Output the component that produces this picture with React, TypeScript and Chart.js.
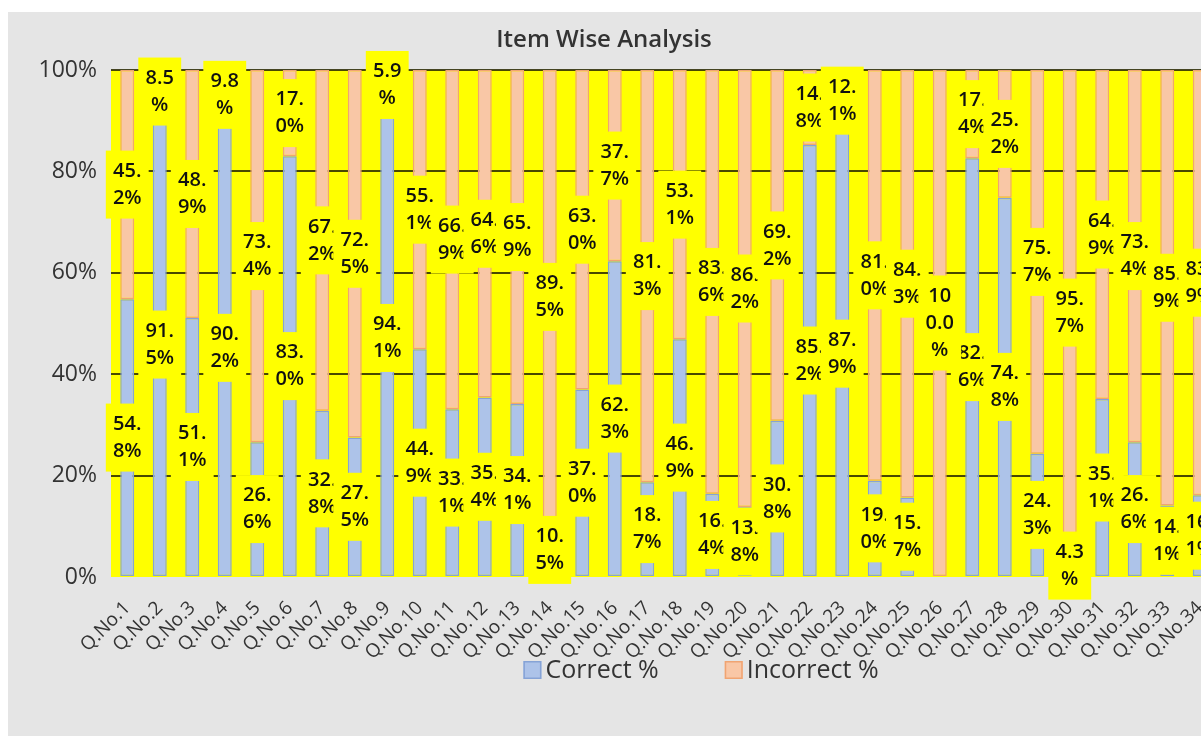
import React, { useEffect, useRef } from 'react';
import { Chart, registerables } from 'chart.js';

Chart.register(...registerables);

const categories = [
  'Q.No.1', 'Q.No.2', 'Q.No.3', 'Q.No.4', 'Q.No.5', 'Q.No.6', 'Q.No.7', 'Q.No.8', 'Q.No.9', 'Q.No.10',
  'Q.No.11', 'Q.No.12', 'Q.No.13', 'Q.No.14', 'Q.No.15', 'Q.No.16', 'Q.No.17', 'Q.No.18', 'Q.No.19', 'Q.No.20',
  'Q.No.21', 'Q.No.22', 'Q.No.23', 'Q.No.24', 'Q.No.25', 'Q.No.26', 'Q.No.27', 'Q.No.28', 'Q.No.29', 'Q.No.30',
  'Q.No.31', 'Q.No.32', 'Q.No.33', 'Q.No.34',
];

const correctPct = [
  54.8, 91.5, 51.1, 90.2, 26.6, 83.0, 32.8, 27.5, 94.1, 44.9,
  33.1, 35.4, 34.1, 10.5, 37.0, 62.3, 18.7, 46.9, 16.4, 13.8,
  30.8, 85.2, 87.9, 19.0, 15.7, 0.0, 82.6, 74.8, 24.3, 4.3,
  35.1, 26.6, 14.1, 16.1,
];

const incorrectPct = [
  45.2, 8.5, 48.9, 9.8, 73.4, 17.0, 67.2, 72.5, 5.9, 55.1,
  66.9, 64.6, 65.9, 89.5, 63.0, 37.7, 81.3, 53.1, 83.6, 86.2,
  69.2, 14.8, 12.1, 81.0, 84.3, 100.0, 17.4, 25.2, 75.7, 95.7,
  64.9, 73.4, 85.9, 83.9,
];

const yTicks = [0, 20, 40, 60, 80, 100];

const seriesNames = ['Correct %', 'Incorrect %'];
const titleText = 'Item Wise Analysis';

const CANVAS_W = 1230;
const CANVAS_H = 724;
const FONT = '"Open Sans", "Noto Sans", sans-serif';

function wrapText(ctx: CanvasRenderingContext2D, text: string, maxW: number): string[] {
  const lines: string[] = [];
  let cur = '';
  for (const ch of text) {
    const t = cur + ch;
    if (cur && ctx.measureText(t).width > maxW) {
      lines.push(cur);
      cur = ch;
    } else {
      cur = t;
    }
  }
  if (cur) lines.push(cur);
  return lines;
}

export default function App() {
  const ref = useRef<HTMLCanvasElement>(null);

  useEffect(() => {
    const canvas = ref.current;
    if (!canvas) return;

    const bgPlugin = {
      id: 'bgPlugin',
      beforeDraw(chart: any) {
        const { ctx, chartArea: a } = chart;
        ctx.save();
        ctx.fillStyle = '#e5e5e5';
        ctx.fillRect(0, 0, chart.width, chart.height);
        ctx.fillStyle = '#ffff00';
        ctx.fillRect(a.left, a.top, a.right - a.left, a.bottom - a.top);
        ctx.restore();
      },
    };

    const labelPlugin = {
      id: 'labelPlugin',
      afterDatasetsDraw(chart: any) {
        const ctx: CanvasRenderingContext2D = chart.ctx;
        ctx.save();
        ctx.font = `600 20px ${FONT}`;
        const wrapW = ctx.measureText('00.').width + 1.5;
        const boxW = wrapW + 13;
        const lh = 27;
        chart.data.datasets.forEach((ds: any, di: number) => {
          const meta = chart.getDatasetMeta(di);
          meta.data.forEach((bar: any, i: number) => {
            const v = ds.data[i];
            if (!v) return;
            const { x, y, base } = bar.getProps(['x', 'y', 'base'], true);
            const cy = (y + base) / 2;
            const lines = wrapText(ctx, v.toFixed(1) + '%', wrapW);
            const bh = lines.length * lh + 14;
            ctx.fillStyle = '#ffff00';
            ctx.fillRect(x - boxW / 2, cy - bh / 2, boxW, bh);
            ctx.fillStyle = '#111111';
            ctx.textAlign = 'center';
            ctx.textBaseline = 'middle';
            lines.forEach((ln, k) => {
              ctx.fillText(ln, x, cy - ((lines.length - 1) * lh) / 2 + k * lh);
            });
          });
        });
        ctx.restore();
      },
      afterDraw(chart: any) {
        const ctx: CanvasRenderingContext2D = chart.ctx;
        ctx.save();
        // title
        ctx.font = `600 24px ${FONT}`;
        ctx.fillStyle = '#333333';
        ctx.textAlign = 'center';
        ctx.textBaseline = 'middle';
        ctx.fillText(titleText, 596, 28);
        // legend
        ctx.font = `25px ${FONT}`;
        const box = 18;
        const gap = 4;
        const itemGap = 66;
        const widths = chart.data.datasets.map((ds: any) => ctx.measureText(ds.label).width);
        const total = widths.reduce((s: number, w: number) => s + box + gap + w, 0) + itemGap * (widths.length - 1);
        let x = 693 - total / 2;
        const cy = 658;
        chart.data.datasets.forEach((ds: any, i: number) => {
          ctx.fillStyle = ds.backgroundColor;
          ctx.fillRect(x, cy - box / 2, box, box);
          ctx.strokeStyle = ds.borderColor;
          ctx.lineWidth = 1.5;
          ctx.strokeRect(x + 0.75, cy - box / 2 + 0.75, box - 1.5, box - 1.5);
          ctx.fillStyle = '#333333';
          ctx.textAlign = 'left';
          ctx.textBaseline = 'middle';
          ctx.fillText(ds.label, x + box + gap, cy + 1);
          x += box + gap + widths[i] + itemGap;
        });
        ctx.restore();
      },
    };

    const chart = new Chart(canvas, {
      type: 'bar',
      data: {
        labels: categories,
        datasets: [
          {
            label: seriesNames[0],
            data: correctPct,
            backgroundColor: '#adc3e9',
            borderColor: '#86a3d6',
            borderWidth: 1.5,
            borderSkipped: false,
            barPercentage: 0.86,
            categoryPercentage: 0.5,
          },
          {
            label: seriesNames[1],
            data: incorrectPct,
            backgroundColor: '#f9c7a6',
            borderColor: '#f0a472',
            borderWidth: 1.5,
            borderSkipped: false,
            barPercentage: 0.86,
            categoryPercentage: 0.5,
          },
        ],
      },
      options: {
        responsive: false,
        animation: false,
        devicePixelRatio: 1,
        layout: { padding: { top: 58, right: 22, left: 0, bottom: 0 } },
        plugins: {
          legend: { display: false },
          title: { display: false },
          tooltip: { enabled: false },
        },
        scales: {
          x: {
            stacked: true,
            grid: { display: false },
            border: { display: false },
            ticks: {
              autoSkip: false,
              minRotation: 45,
              maxRotation: 45,
              padding: 12,
              color: '#333333',
              font: { family: FONT, size: 19 },
            },
            afterFit(scale: any) {
              scale.height = 159;
            },
          },
          y: {
            stacked: true,
            min: 0,
            max: 100,
            border: { display: false },
            grid: {
              drawTicks: false,
              lineWidth: 2,
              color: (c: any) => (c.tick && c.tick.value === 0 ? 'rgba(0,0,0,0)' : 'rgba(40,40,0,0.85)'),
            },
            ticks: {
              padding: 14,
              color: '#333333',
              font: { family: FONT, size: 23 },
              callback: (v: any) => v + '%',
            },
            afterBuildTicks(scale: any) {
              scale.ticks = yTicks.map((v) => ({ value: v }));
            },
            afterFit(scale: any) {
              scale.width = 103;
            },
          },
        },
      },
      plugins: [bgPlugin, labelPlugin],
    });

    return () => {
      chart.destroy();
    };
  }, []);

  return (
    <div
      style={{
        position: 'fixed',
        left: 8,
        top: 12,
        width: 1193,
        height: CANVAS_H,
        overflow: 'hidden',
        background: '#e5e5e5',
      }}
    >
      <canvas ref={ref} width={CANVAS_W} height={CANVAS_H} style={{ display: 'block' }} />
    </div>
  );
}
